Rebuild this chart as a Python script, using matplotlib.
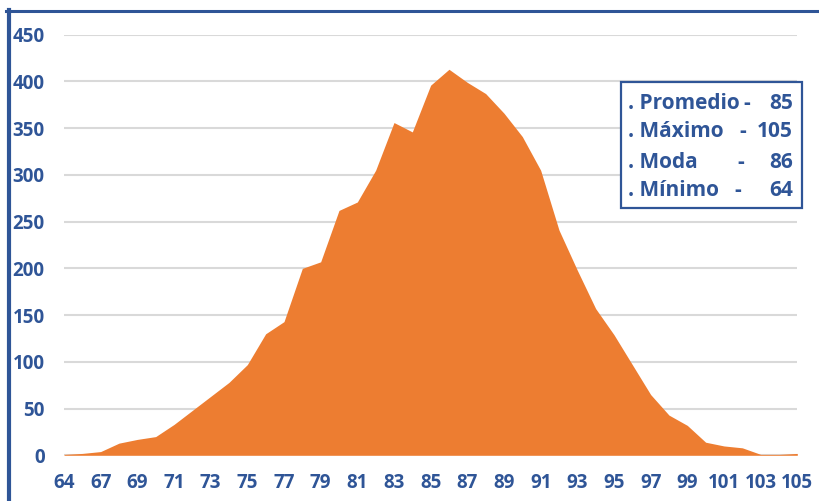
import numpy as np
import matplotlib.pyplot as plt
from matplotlib.lines import Line2D

# datos
categorias = [64, 66, 67, 68, 69, 70, 71, 72, 73, 74, 75, 76, 77, 78, 79, 80,
              81, 82, 83, 84, 85, 86, 87, 88, 89, 90, 91, 92, 93, 94, 95, 96,
              97, 98, 99, 100, 101, 102, 103, 104, 105]
frecuencia = [1, 2, 4, 13, 17, 20, 33, 48, 63, 78, 97, 130, 143, 200, 207, 262,
              271, 305, 356, 346, 396, 413, 399, 387, 366, 341, 305, 241, 198, 157, 129, 97,
              65, 43, 32, 14, 10, 8, 1, 1, 2]
y_ticks = [0, 50, 100, 150, 200, 250, 300, 350, 400, 450]
resumen = [('. Promedio', '-', '85'),
           ('. Máximo', '-', '105'),
           ('. Moda', '-', '86'),
           ('. Mínimo', '-', '64')]

azul = '#2F5597'
naranja = '#ED7D31'
fuente = 'Open Sans'

fig = plt.figure(figsize=(8.2, 5.01), dpi=100)
ax = fig.add_axes([64 / 820, 1 - 455.3 / 501, 733.3 / 820, 420.6 / 501])

x = np.arange(len(categorias))
ax.fill_between(x, frecuencia, 0, color=naranja, linewidth=0, zorder=2)

ax.set_xlim(0, len(categorias) - 1)
ax.set_ylim(0, 450)
ax.set_yticks(y_ticks)
ax.set_yticklabels([str(v) for v in y_ticks])
ax.set_xticks(x[::2])
ax.set_xticklabels([str(c) for c in categorias[::2]])
ax.grid(axis='y', color='#D9D9D9', linewidth=1.5, zorder=1)
ax.set_axisbelow(True)
for s in ax.spines.values():
    s.set_visible(False)
ax.tick_params(length=0, labelcolor=azul, labelsize=13.5)
ax.tick_params(axis='y', pad=14)
ax.tick_params(axis='x', pad=13)
for lbl in ax.get_xticklabels() + ax.get_yticklabels():
    lbl.set_fontfamily(fuente)
    lbl.set_fontweight('bold')

# marco azul (izquierda y arriba)
fig.add_artist(Line2D([8.5 / 820, 8.5 / 820], [0, 1 - 10 / 501], color=azul, linewidth=3))
fig.add_artist(Line2D([6.5 / 820, 1], [1 - 11.3 / 501, 1 - 11.3 / 501], color=azul, linewidth=2.2))

# cuadro de resumen
bx0, bx1, by0, by1 = 620.7, 802, 82.3, 208.3
fig.add_artist(plt.Rectangle((bx0 / 820, 1 - by1 / 501), (bx1 - bx0) / 820, (by1 - by0) / 501,
                             fill=True, facecolor='white', edgecolor=azul, linewidth=1.6,
                             transform=fig.transFigure, zorder=5))
filas_y = [103.3, 131.7, 162.3, 190.7]
guion_x = [746.7, 743, 740.7, 738]
for (et, g, val), yy, gx in zip(resumen, filas_y, guion_x):
    fy = 1 - yy / 501
    fig.text(628 / 820, fy, et, color=azul, fontsize=15, fontweight='bold',
             family=fuente, ha='left', va='center', zorder=6)
    fig.text(gx / 820, fy, g, color=azul, fontsize=15, fontweight='bold',
             family=fuente, ha='center', va='center', zorder=6)
    fig.text(793 / 820, fy, val, color=azul, fontsize=15, fontweight='bold',
             family=fuente, ha='right', va='center', zorder=6)

fig.savefig('out.png', dpi=100)
